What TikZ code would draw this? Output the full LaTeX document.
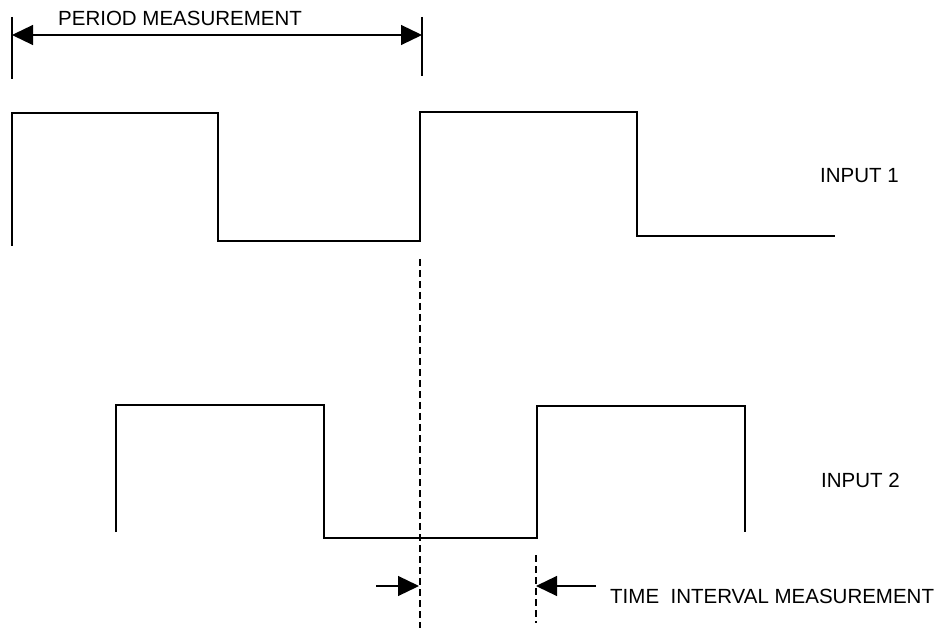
\documentclass[tikz,border=0pt]{standalone}
\usepackage{fontspec}
\setmainfont{Liberation Sans}
\usetikzlibrary{arrows.meta}

\begin{document}
\begin{tikzpicture}[x=1pt,y=-1pt,wave/.style={line width=1.3pt,line join=miter},tick/.style={line width=1.2pt},marker/.style={line width=1.1pt,dash pattern=on 7pt off 4pt},meas/.style={line width=1.2pt,-{Triangle[length=21pt,width=20pt]}},lbl/.style={anchor=base west,inner sep=0pt,font=\fontsize{20.5}{24}\selectfont}]
\useasboundingbox (0,0) rectangle (943,628);
% period measurement
\coordinate (P1t) at (12,17);
\coordinate (P1b) at (12,79);
\coordinate (P2t) at (422,17);
\coordinate (P2b) at (422,76);
\coordinate (P1) at (12,35);
\coordinate (P2) at (422,35);
\draw[tick] (P1t) -- (P1b);
\draw[tick] (P2t) -- (P2b);
\draw[meas,{Triangle[length=21pt,width=20pt]}-{Triangle[length=21pt,width=20pt]}] (P1) -- (P2);
\node[lbl] (period) at (58,26) {PERIOD MEASUREMENT};
% input 1
\coordinate (A0) at (12,246);
\coordinate (A1) at (12,113);
\coordinate (A2) at (218,113);
\coordinate (A3) at (218,241);
\coordinate (A4) at (420,241);
\coordinate (A5) at (420,112);
\coordinate (A6) at (637,112);
\coordinate (A7) at (637,236);
\coordinate (A8) at (835,236);
\draw[wave] (A0) -- (A1) -- (A2) -- (A3) -- (A4) -- (A5) -- (A6) -- (A7) -- (A8);
\node[lbl] (in1) at (820,183) {INPUT 1};
% input 2
\coordinate (B0) at (116,532);
\coordinate (B1) at (116,405);
\coordinate (B2) at (324,405);
\coordinate (B3) at (324,538);
\coordinate (B4) at (537,538);
\coordinate (B5) at (537,406);
\coordinate (B6) at (745,406);
\coordinate (B7) at (745,532);
\draw[wave] (B0) -- (B1) -- (B2) -- (B3) -- (B4) -- (B5) -- (B6) -- (B7);
\node[lbl] (in2) at (821,487) {INPUT 2};
% time interval measurement
\coordinate (M1t) at (420,259);
\coordinate (M1b) at (420,628);
\coordinate (M2t) at (536,555);
\coordinate (M2b) at (536,623);
\draw[marker] (M1t) -- (M1b);
\draw[marker] (M2t) -- (M2b);
\coordinate (T1) at (376,586);
\coordinate (T1e) at (419,586);
\coordinate (T2) at (596,586);
\coordinate (T2e) at (536,586);
\draw[meas] (T1) -- (T1e);
\draw[meas] (T2) -- (T2e);
\node[lbl] (tim) at (610,603) {TIME\ \ INTERVAL MEASUREMENT};
\end{tikzpicture}
\end{document}
